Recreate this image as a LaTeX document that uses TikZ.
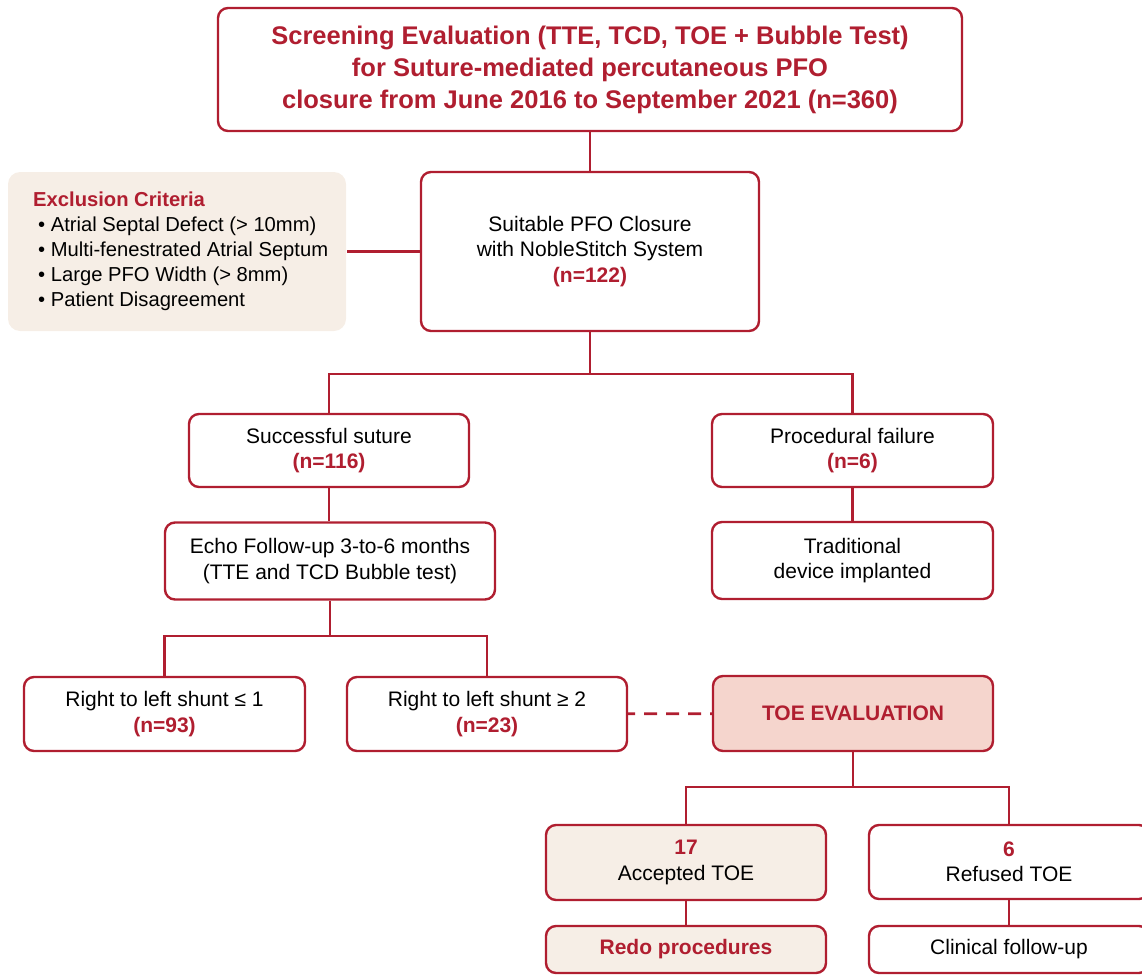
\documentclass[tikz,border=0pt]{standalone}
\usepackage{fontspec}
\setmainfont{Liberation Sans}
\definecolor{frame}{RGB}{176,30,48}
\definecolor{beige}{RGB}{246,238,230}
\definecolor{rose}{RGB}{245,213,205}
\newcommand{\hl}[1]{\textcolor{frame}{\textbf{#1}}}
\begin{document}
\begin{tikzpicture}[x=1pt,y=-1pt,
    box/.style={draw=frame, line width=2.4pt, rounded corners=10pt, fill=white,
      align=center, inner sep=0pt, font=\fontsize{21}{25.5}\selectfont},
    link/.style={draw=frame, line width=2.8pt}]
    \useasboundingbox (0,0) rectangle (1142,974);
    \clip (0,0) rectangle (1142,974);
    \node[box, minimum width=744pt, minimum height=123pt,
      font=\fontsize{25.5}{32}\selectfont\bfseries\color{frame}] (screen) at (590,69.5)
      {Screening Evaluation (TTE, TCD, TOE + Bubble Test)\\for Suture-mediated percutaneous PFO\\closure from June 2016 to September 2021 (n=360)};
    \node[box, draw=none, fill=beige, rounded corners=12pt, minimum width=338pt, minimum height=159pt] (excl) at (177,251.5) {};
    \node[anchor=west, align=left, inner sep=0pt, font=\fontsize{20.2}{25}\selectfont] (excltext) at (33,251)
      {\hl{Exclusion Criteria}\\
       \hspace*{5pt}• Atrial Septal Defect (> 10mm)\\
       \hspace*{5pt}• Multi-fenestrated Atrial Septum\\
       \hspace*{5pt}• Large PFO Width (> 8mm)\\
       \hspace*{5pt}• Patient Disagreement};
    \node[box, minimum width=338pt, minimum height=159pt] (suit) at (590,251.5)
      {Suitable PFO Closure\\with NobleStitch System\\\hl{(n=122)}};
    \node[box, minimum width=280pt, minimum height=73pt] (succ) at (329,450.5)
      {Successful suture\\\hl{(n=116)}};
    \node[box, minimum width=281pt, minimum height=73pt] (fail) at (852.5,450.5)
      {Procedural failure\\\hl{(n=6)}};
    \node[box, minimum width=330pt, minimum height=77pt] (echo) at (330,561)
      {Echo Follow-up 3-to-6 months\\(TTE and TCD Bubble test)};
    \node[box, minimum width=281pt, minimum height=77pt] (trad) at (852.5,560.5)
      {Traditional\\device implanted};
    \node[box, minimum width=281pt, minimum height=74pt] (shuntlow) at (164.5,714)
      {Right to left shunt ≤ 1\\\hl{(n=93)}};
    \node[box, minimum width=280pt, minimum height=74pt] (shunthigh) at (487,714)
      {Right to left shunt ≥ 2\\\hl{(n=23)}};
    \node[box, fill=rose, minimum width=280pt, minimum height=75pt] (toe) at (853,713.5)
      {\hl{TOE EVALUATION}};
    \node[box, fill=beige, minimum width=280pt, minimum height=75pt] (accept) at (686,862.5)
      {\hl{17}\\Accepted TOE};
    \node[box, minimum width=280pt, minimum height=74pt] (refuse) at (1009,862)
      {\hl{6}\\Refused TOE};
    \node[box, fill=beige, minimum width=280pt, minimum height=47pt] (redo) at (686,949.5)
      {\hl{Redo procedures}};
    \node[box, minimum width=280pt, minimum height=47pt] (clinic) at (1009,949.5)
      {Clinical follow-up};
    \coordinate (forkA) at (590,374);
    \coordinate (forkB) at (330,636);
    \coordinate (forkC) at (853,787);
    \draw[link] (screen) -- (suit);
    \draw[link] (excl) -- (suit);
    \draw[link] (suit) -- (forkA);
    \draw[link] (succ.north) |- (forkA) -| (fail.north);
    \draw[link] (succ.south) -- (succ.south |- echo.north);
    \draw[link] (fail) -- (trad);
    \draw[link] (echo.south) -- (forkB);
    \draw[link] (shuntlow.north) |- (forkB) -| (shunthigh.north);
    \draw[link, dash pattern=on 13pt off 9pt, dash phase=6pt] (shunthigh) -- (toe);
    \draw[link] (toe) -- (forkC);
    \draw[link] (accept.north) |- (forkC) -| (refuse.north);
    \draw[link] (accept) -- (redo);
    \draw[link] (refuse) -- (clinic);
\end{tikzpicture}
\end{document}
